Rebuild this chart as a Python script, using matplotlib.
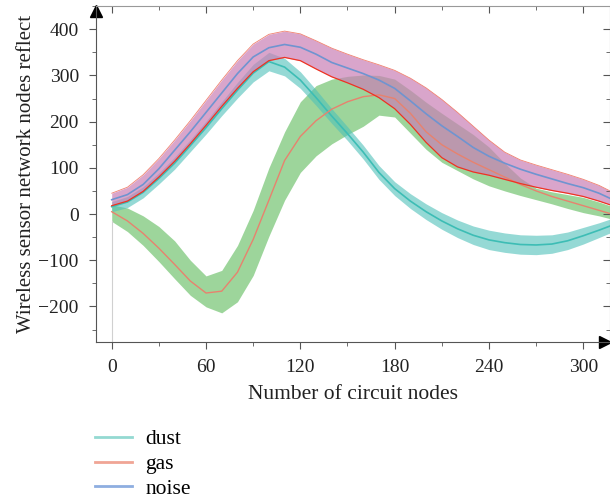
import matplotlib.pyplot as plt
import numpy as np
from matplotlib.lines import Line2D

plt.rcParams['font.family'] = ['Liberation Serif', 'DejaVu Serif']

# x positions (number of circuit nodes)
x = [0, 10, 20, 30, 40, 50, 60, 70, 80, 90, 100, 110, 120, 130, 140, 150, 160,
     170, 180, 190, 200, 210, 220, 230, 240, 250, 260, 270, 280, 290, 300, 310, 317]

# dust: centre line and band half width
dust = [16, 26, 47, 77, 110, 148, 187, 228, 268, 305, 330, 318, 290, 252, 212, 174, 134,
        90, 55, 28, 5, -15, -32, -46, -56, -62, -66, -67, -65, -58, -47, -35, -26]
dust_w = [11, 12, 12, 12, 13, 13, 14, 15, 17, 19, 20, 19, 18, 17, 16, 15, 15,
          15, 15, 16, 17, 18, 19, 20, 21, 21, 21, 21, 20, 19, 18, 16, 15]

# gas: centre line, band upper and lower edges
gas = [5, -15, -42, -74, -109, -145, -171, -167, -126, -55, 30, 116, 168, 202, 227, 243, 254,
       258, 250, 218, 178, 150, 130, 112, 96, 80, 64, 50, 38, 28, 18, 8, 1]
gas_hi = [20, 13, -4, -27, -58, -100, -134, -122, -68, 8, 100, 178, 243, 278, 292, 298, 301,
          300, 292, 268, 242, 218, 195, 172, 145, 110, 78, 56, 48, 42, 36, 26, 18]
gas_lo = [-16, -38, -68, -103, -140, -176, -201, -214, -190, -133, -48, 30, 90, 126, 152, 172, 190,
          214, 210, 175, 140, 112, 94, 76, 61, 50, 40, 31, 22, 12, 3, -4, -10]

# noise: centre line, band upper and lower edges
noise = [31, 42, 64, 98, 138, 178, 220, 262, 304, 340, 360, 367, 361, 346, 328, 316, 304,
         290, 272, 245, 217, 191, 168, 144, 125, 110, 97, 86, 76, 66, 57, 45, 34]
noise_hi = [45, 58, 85, 120, 160, 202, 246, 290, 332, 368, 389, 396, 390, 375, 359, 346, 334,
            323, 311, 294, 273, 248, 220, 190, 160, 134, 117, 106, 96, 86, 75, 62, 50]
noise_lo = [18, 28, 49, 80, 114, 152, 192, 233, 272, 308, 332, 339, 332, 314, 297, 284, 270,
            252, 228, 194, 155, 122, 102, 91, 84, 75, 66, 58, 51, 45, 38, 28, 20]

labels = ['dust', 'gas', 'noise']

x = np.array(x)
dust = np.array(dust)
dust_w = np.array(dust_w)

fig = plt.figure(figsize=(6.1, 4.98), dpi=100)
ax = fig.add_axes([0.1566, 0.3133, 0.8434, 0.6753])

ax.fill_between(x, gas_lo, gas_hi, color='#7cc87a', alpha=0.75, lw=0)
ax.fill_between(x, dust - dust_w, dust + dust_w, color='#4fc1b9', alpha=0.6, lw=0)
ax.fill_between(x, noise_lo, noise_hi, color='#c97fb5', alpha=0.7, lw=0)
ax.plot(x, noise_hi, color='#f08070', lw=0.6)

ax.plot([x[0], x[0]], [-277, gas_lo[0]], color='#d0d0d0', lw=0.8)

ax.plot(x, dust, color='#3dbdb5', lw=1.2)
ax.plot(x, gas, color='#e8826e', lw=1.0)
ax.plot(x, noise, color='#6f94d0', lw=1.2)
ax.plot(x, noise_lo, color='#ee3322', lw=0.9)

ax.set_xlim(-10.3, 317)
ax.set_ylim(-277, 451)
ax.set_xticks(np.arange(0, 301, 60))
ax.set_xticks(np.arange(30, 301, 60), minor=True)
ax.set_yticks(np.arange(-200, 401, 100))
ax.set_yticks(np.arange(-250, 451, 100), minor=True)

for s in ['left', 'bottom']:
    ax.spines[s].set_color('#555555')
for s in ['top', 'right']:
    ax.spines[s].set_color('#999999')
ax.tick_params(which='both', direction='out', colors='#555555', labelcolor='#222222',
               labelsize=14, top=True, right=True, pad=7)
ax.tick_params(which='major', length=5)
ax.tick_params(which='minor', length=3)
for t in ax.xaxis.get_major_ticks() + ax.xaxis.get_minor_ticks():
    t.tick2line.set_marker(3)
for t in ax.yaxis.get_major_ticks() + ax.yaxis.get_minor_ticks():
    t.tick2line.set_marker(0)

ax.plot(0, 0.985, marker='^', color='black', ms=8, transform=ax.transAxes, clip_on=False)
ax.plot(0.99, 0, marker='>', color='black', ms=8, transform=ax.transAxes, clip_on=False)

ax.set_xlabel('Number of circuit nodes', fontsize=15.5, color='#222222', labelpad=7)
ax.set_ylabel('Wireless sensor network nodes reflect', fontsize=15, color='#222222', labelpad=2)

handles = [Line2D([], [], color=c, lw=2) for c in ['#94d9d2', '#f0a595', '#8eaee0']]
fig.legend(handles, labels, loc='upper left', bbox_to_anchor=(0.155, 0.138), frameon=False,
           fontsize=15.5, handlelength=1.75, handletextpad=0.6, labelspacing=0.22,
           borderpad=0, borderaxespad=0)

fig.savefig('out.png', dpi=100)
